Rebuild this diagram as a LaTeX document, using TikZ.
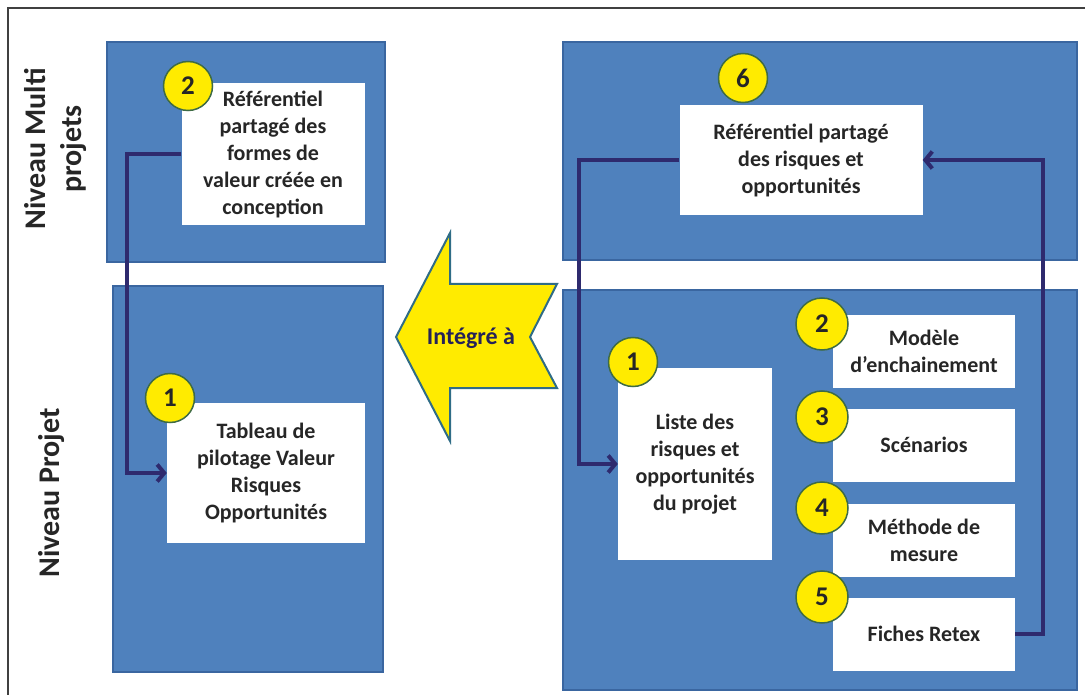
\documentclass[tikz,border=0pt]{standalone}
\usepackage{fontspec}
\setmainfont{Carlito}
\usetikzlibrary{arrows.meta}
\definecolor{lvlblue}{HTML}{4F81BD}
\definecolor{lvledge}{HTML}{3A66A0}
\definecolor{stepyellow}{HTML}{FFEB00}
\definecolor{stepedge}{HTML}{3E6B45}
\definecolor{linkblue}{HTML}{2E2A6E}
\definecolor{arrowedge}{HTML}{2F6C86}
\definecolor{txtgray}{HTML}{262626}
\begin{document}
\begin{tikzpicture}[x=1pt,y=-1pt,
  lvl/.style={draw=lvledge,fill=lvlblue,line width=2pt,inner sep=0pt},
  card/.style={fill=white,inner sep=0pt,align=center,text=txtgray,font=\bfseries\fontsize{22}{27}\selectfont},
  num/.style={circle,draw=stepedge,fill=stepyellow,line width=1.5pt,minimum size=49pt,inner sep=0pt,text=txtgray,font=\bfseries\fontsize{27}{27}\selectfont},
  lvltext/.style={rotate=90,align=center,text=txtgray,font=\bfseries\fontsize{30}{36}\selectfont},
  link/.style={draw=linkblue,line width=4pt,-{Straight Barb[length=7pt,width=17pt]}}]
\useasboundingbox (0,0) rectangle (1085,695);
\draw[black!75,line width=1.5pt] (8,695) -- (8,8) -- (1085,8);
% levels
\node[lvltext] (multi) at (55,149) {Niveau Multi\\projets};
\node[lvltext] (projet) at (52,493) {Niveau Projet};
\node[lvl,minimum width=278pt,minimum height=220pt] (mpL) at (246,152) {};
\node[lvl,minimum width=270pt,minimum height=385pt] (pjL) at (248,479) {};
\node[lvl,minimum width=514pt,minimum height=218pt] (mpR) at (820,151) {};
\node[lvl,minimum width=514pt,minimum height=400pt] (pjR) at (820,490) {};
% left side
\node[card,minimum width=183pt,minimum height=142pt] (refval) at (273,154) {Référentiel\\partagé des\\formes de\\valeur créée en\\conception};
\node[card,minimum width=198pt,minimum height=140pt] (tableau) at (266,473) {Tableau de\\pilotage Valeur\\Risques\\Opportunités};
\node[num] (numL2) at (188,86) {2};
\node[num] (numL1) at (170,398) {1};
\draw[link] (refval.west) -- ++(-54,0) |- (tableau.west);
% right side
\node[card,minimum width=243pt,minimum height=110pt] (refrisk) at (801,160) {Référentiel partagé\\des risques et\\opportunités};
\node[card,minimum width=154pt,minimum height=192pt] (liste) at (695,464) {Liste des\\risques et\\opportunités\\du projet};
\foreach \n/\y/\txt in {2/351/{Modèle\\d’enchainement},3/445/{Scénarios},4/540/{Méthode de\\mesure},5/634/{Fiches Retex}}{
  \node[card,minimum width=182pt,minimum height=73pt] (step\n) at (924,\y) {\txt};}
\node[num] (num6) at (743,78) {6};
\node[num] (numR1) at (633,362) {1};
\foreach \n/\y in {2/324,3/417,4/508,5/597}{\node[num,minimum size=52pt] (num\n) at (822,\y) {\n};}
\draw[link] (refrisk.west) -- ++(-100,0) |- (liste.west);
\draw[link] (step5.east) -- ++(28,0) |- (refrisk.east);
% integration arrow
\draw[fill=stepyellow,draw=arrowedge,line width=2pt,line join=miter]
  (396,337) -- (450,233) -- (450,284) -- (557,284) -- (530,337) -- (557,388) -- (450,388) -- (450,441) -- cycle;
\node[text=linkblue!80!black,font=\bfseries\fontsize{24}{24}\selectfont] (integ) at (471,338) {Intégré à};
\end{tikzpicture}
\end{document}
